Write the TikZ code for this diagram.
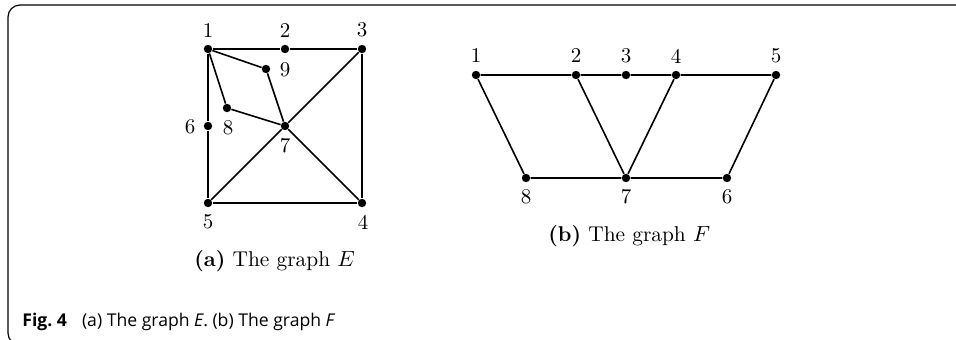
\documentclass[tikz,border=0pt]{standalone}
\usepackage{fontspec}
\newfontfamily\capfont{Open Sans}
\begin{document}
\begin{tikzpicture}[x=0.5pt,y=-0.5pt,
  vtx/.style={circle,fill=black,inner sep=0pt,minimum size=4.2pt},
  edge/.style={line width=0.8pt},
  lbl/.style={inner sep=0pt,font=\fontsize{10.5}{12}\selectfont},
  subcap/.style={inner sep=0pt,anchor=base west,font=\fontsize{10.7}{12}\selectfont}]
\useasboundingbox (0,0) rectangle (956,339);
\draw[line width=0.6pt,rounded corners=6pt] (956,5) -- (8,5) -- (8,345) -- (40,345);
% graph E
\node[vtx] (e1) at (208,49) {};
\node[vtx] (e2) at (285,49) {};
\node[vtx] (e3) at (362,49) {};
\node[vtx] (e9) at (266,69) {};
\node[vtx] (e8) at (227,108) {};
\node[vtx] (e6) at (208,126) {};
\node[vtx] (e7) at (285,126) {};
\node[vtx] (e5) at (208,203) {};
\node[vtx] (e4) at (362,203) {};
\node[lbl] (l1) at (208,30) {1};
\node[lbl] (l2) at (285,30) {2};
\node[lbl] (l3) at (362,30) {3};
\node[lbl] (l9) at (285,70) {9};
\node[lbl] (l8) at (228,128) {8};
\node[lbl] (l6) at (190,127) {6};
\node[lbl] (l7) at (285,146) {7};
\node[lbl] (l5) at (208,222) {5};
\node[lbl] (l4) at (363,222) {4};
\draw[edge] (e1) -- (e2) -- (e3) -- (e4) -- (e5) -- (e6) -- (e1);
\draw[edge] (e1) -- (e9) -- (e7);
\draw[edge] (e1) -- (e8) -- (e7);
\draw[edge] (e3) -- (e7) -- (e5);
\draw[edge] (e7) -- (e4);
\node[subcap] (capa) at (194,266) {\textbf{(a)} The graph $E$};
% graph F
\node[vtx] (f1) at (476,75) {};
\node[vtx] (f2) at (576,75) {};
\node[vtx] (f3) at (626,75) {};
\node[vtx] (f4) at (676,75) {};
\node[vtx] (f5) at (776,75) {};
\node[vtx] (f8) at (526,178) {};
\node[vtx] (f7) at (626,178) {};
\node[vtx] (f6) at (727,178) {};
\node[lbl] (m1) at (476,56) {1};
\node[lbl] (m2) at (576,56) {2};
\node[lbl] (m3) at (626,56) {3};
\node[lbl] (m4) at (676,56) {4};
\node[lbl] (m5) at (776,56) {5};
\node[lbl] (m8) at (526,197) {8};
\node[lbl] (m7) at (626,197) {7};
\node[lbl] (m6) at (727,197) {6};
\draw[edge] (f1) -- (f2) -- (f3) -- (f4) -- (f5) -- (f6) -- (f7) -- (f8) -- (f1);
\draw[edge] (f2) -- (f7) -- (f4);
\node[subcap] (capb) at (548,241) {\textbf{(b)} The graph $F$};
% caption
\node[anchor=base west,inner sep=0pt,font=\capfont\fontsize{8.8}{10}\selectfont] (figcap) at (22,326)
  {\textbf{Fig.~4}\hspace{7.5pt}(a) The graph \textit{E}. (b) The graph \textit{F}};
\end{tikzpicture}
\end{document}
